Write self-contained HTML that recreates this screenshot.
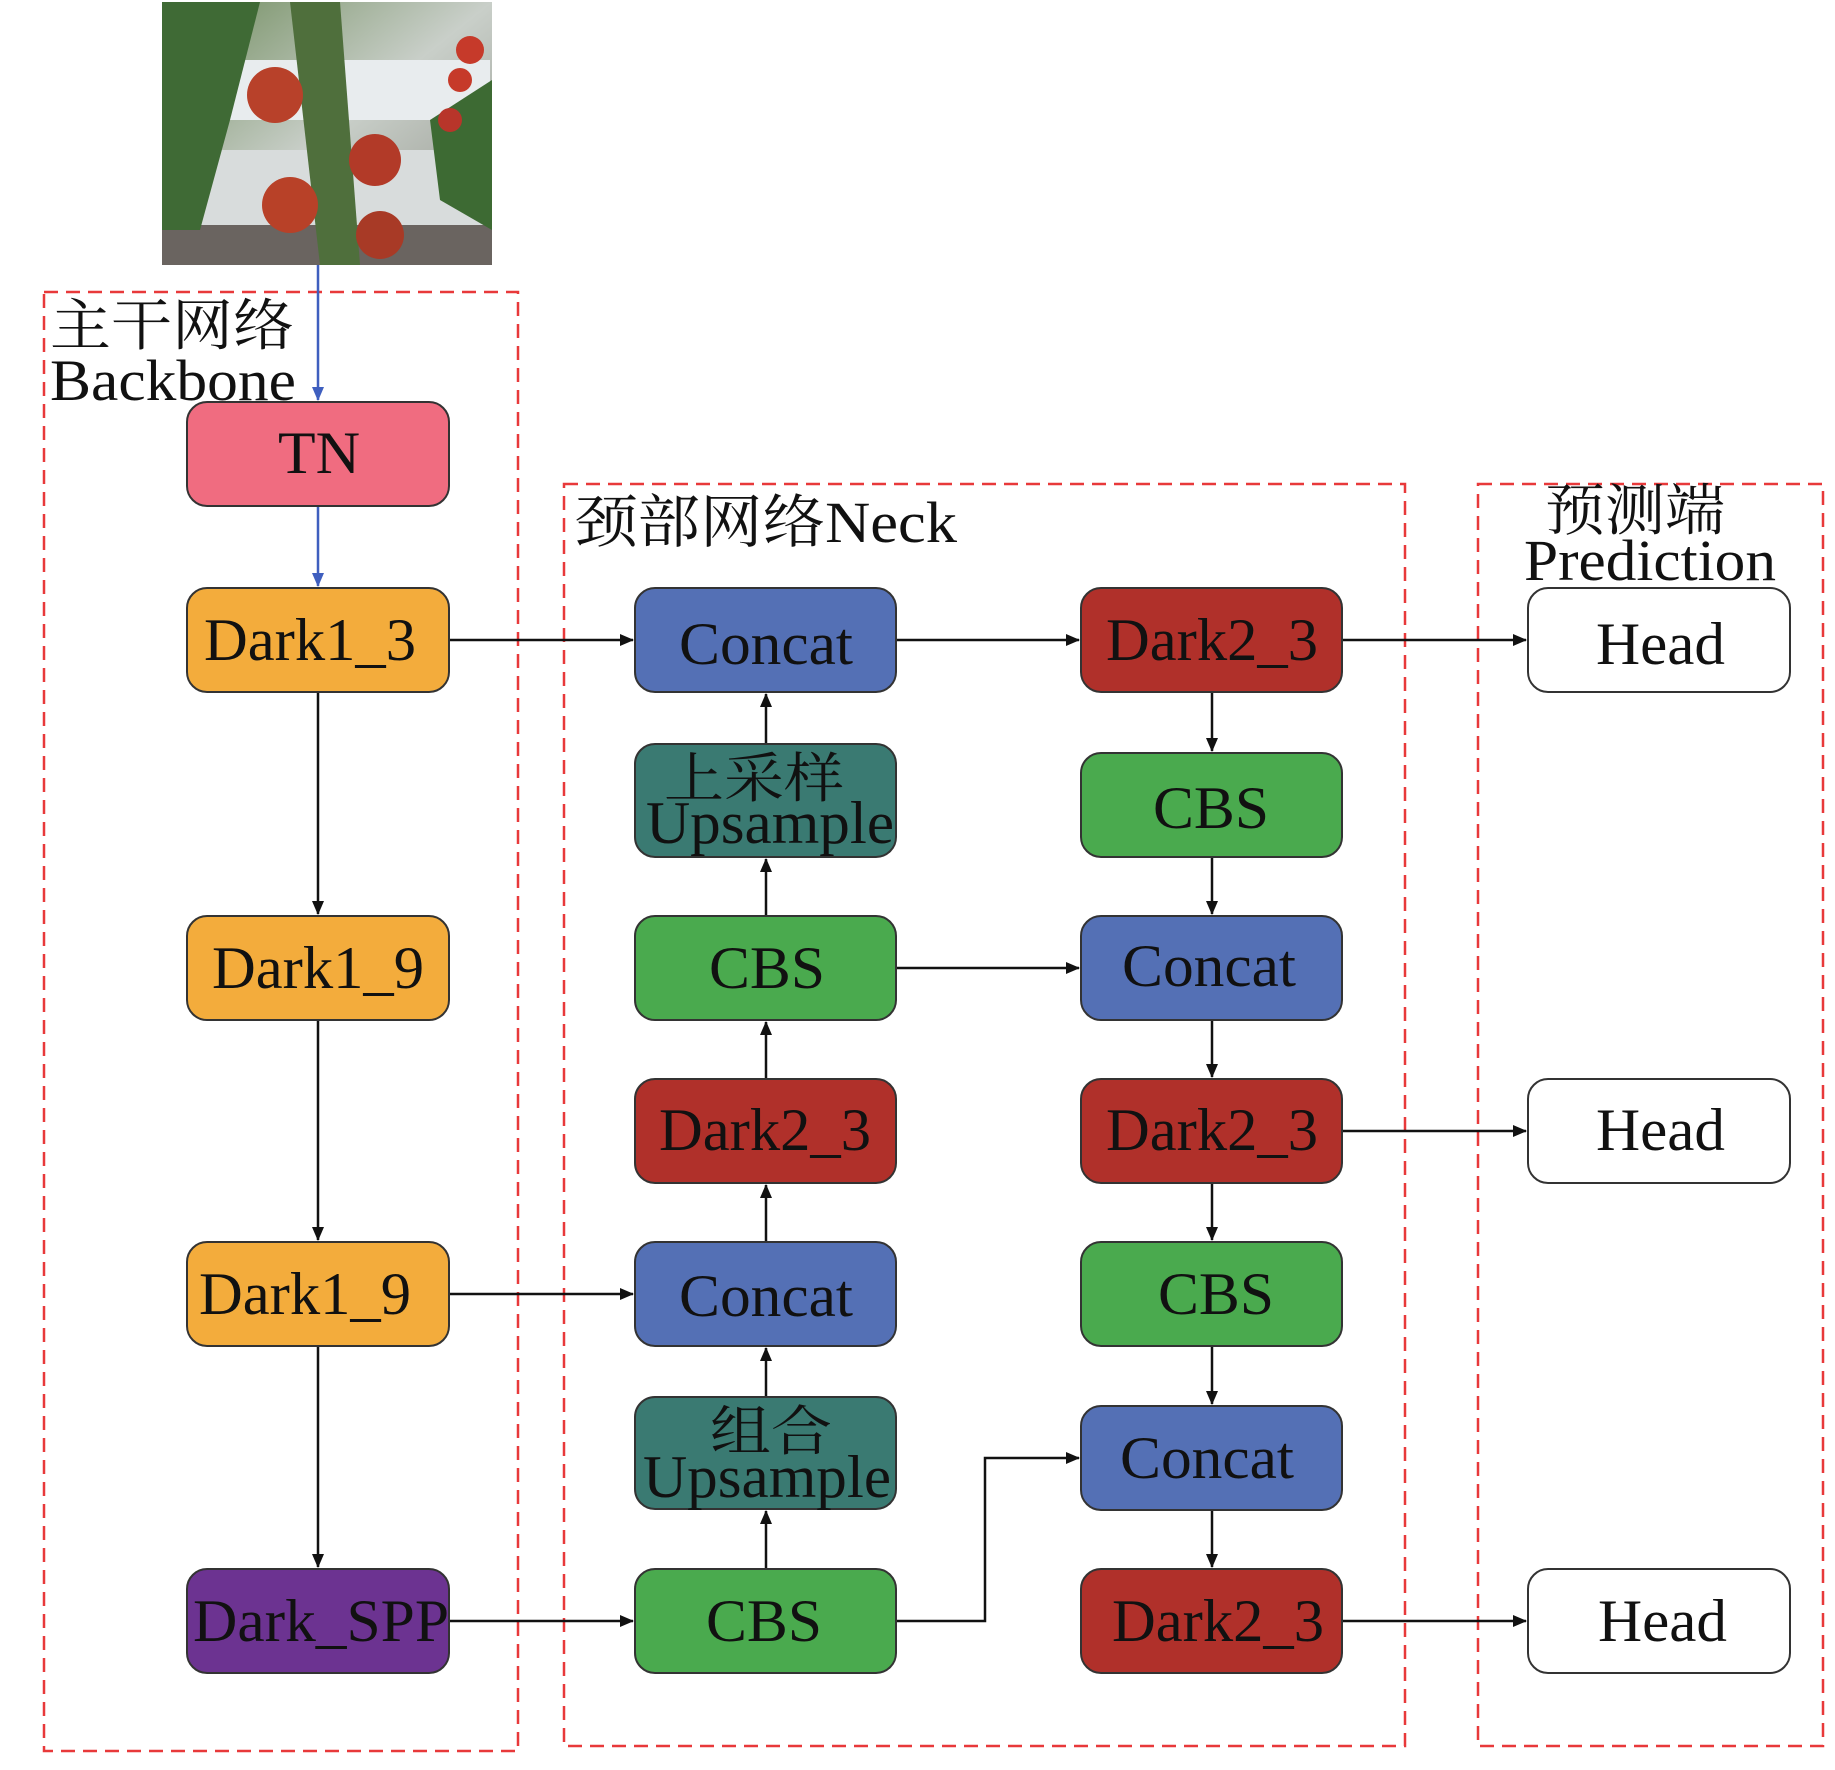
<!DOCTYPE html>
<html><head><meta charset="utf-8"><style>html,body{margin:0;padding:0;background:#fff}svg{display:block}</style></head>
<body>
<svg width="1835" height="1770" viewBox="0 0 1835 1770" xmlns="http://www.w3.org/2000/svg" font-family="'Liberation Serif','Noto Serif CJK SC',serif">
<defs>
<marker id="a" markerWidth="10" markerHeight="10" refX="9" refY="5" orient="auto" markerUnits="userSpaceOnUse"><path d="M0,0 L10,5 L0,10 z" fill="#111"/></marker>
<marker id="b" markerWidth="14" markerHeight="14" refX="13" refY="7" orient="auto" markerUnits="userSpaceOnUse"><path d="M0,1 L14,7 L0,13 z" fill="#3f5fbf"/></marker>
<marker id="k" markerWidth="14" markerHeight="14" refX="13" refY="7" orient="auto" markerUnits="userSpaceOnUse"><path d="M0,1 L14,7 L0,13 z" fill="#111"/></marker>
<linearGradient id="bg" x1="0" y1="0" x2="1" y2="1"><stop offset="0" stop-color="#6d8a5a"/><stop offset="0.5" stop-color="#c9cfc9"/><stop offset="1" stop-color="#8c8f86"/></linearGradient>
</defs>
<!-- photo -->
<rect x="162" y="2" width="330" height="263" fill="url(#bg)"/>
<rect x="210" y="60" width="280" height="60" fill="#e8ecee"/>
<rect x="200" y="150" width="292" height="80" fill="#d8dcdc"/>
<rect x="162" y="225" width="330" height="40" fill="#6a6460"/>
<path d="M162,2 L260,2 L230,120 L200,230 L162,230 z" fill="#3f6a35"/>
<path d="M290,2 L340,2 L360,265 L320,265 z" fill="#4f6f3c"/>
<path d="M430,120 L492,80 L492,230 L440,200 z" fill="#3d6a33"/>
<circle cx="275" cy="95" r="28" fill="#b8412a"/>
<circle cx="375" cy="160" r="26" fill="#b23a28"/>
<circle cx="290" cy="205" r="28" fill="#b84128"/>
<circle cx="380" cy="235" r="24" fill="#a83a26"/>
<circle cx="470" cy="50" r="14" fill="#c63a2a"/><circle cx="460" cy="80" r="12" fill="#c63a2a"/><circle cx="450" cy="120" r="12" fill="#b8352a"/>
<!-- dashed groups -->
<g fill="none" stroke="#e8393a" stroke-width="2.5" stroke-dasharray="14,8">
<rect x="44" y="292" width="474" height="1459"/>
<rect x="564" y="484" width="841" height="1262"/>
<rect x="1478" y="484" width="345" height="1262"/>
</g>
<!-- group labels -->
<g fill="#111">
<text x="50" y="345" font-size="56" textLength="244" lengthAdjust="spacingAndGlyphs">主干网络</text>
<text x="50" y="400" font-size="58" textLength="246" lengthAdjust="spacingAndGlyphs">Backbone</text>
<text x="575" y="542" font-size="58" textLength="382" lengthAdjust="spacingAndGlyphs">颈部网络Neck</text>
<text x="1545" y="530" font-size="56" textLength="180" lengthAdjust="spacingAndGlyphs">预测端</text>
<text x="1524" y="580" font-size="58" textLength="252" lengthAdjust="spacingAndGlyphs">Prediction</text>
</g>
<!-- connectors -->
<g stroke="#3f5fbf" stroke-width="2.5" fill="none">
<line x1="318" y1="265" x2="318" y2="400" marker-end="url(#b)"/>
<line x1="318" y1="506" x2="318" y2="586" marker-end="url(#b)"/>
</g>
<g stroke="#111" stroke-width="2.5" fill="none" marker-end="url(#k)">
<line x1="449" y1="640" x2="633" y2="640"/>
<line x1="896" y1="640" x2="1079" y2="640"/>
<line x1="1342" y1="640" x2="1526" y2="640"/>
<line x1="318" y1="692" x2="318" y2="914"/>
<line x1="318" y1="1020" x2="318" y2="1240"/>
<line x1="318" y1="1346" x2="318" y2="1567"/>
<line x1="449" y1="1294" x2="633" y2="1294"/>
<line x1="449" y1="1621" x2="633" y2="1621"/>
<line x1="766" y1="1569" x2="766" y2="1511"/>
<line x1="766" y1="1397" x2="766" y2="1348"/>
<line x1="766" y1="1242" x2="766" y2="1185"/>
<line x1="766" y1="1079" x2="766" y2="1022"/>
<line x1="766" y1="916" x2="766" y2="859"/>
<line x1="766" y1="744" x2="766" y2="694"/>
<line x1="896" y1="968" x2="1079" y2="968"/>
<line x1="1212" y1="692" x2="1212" y2="751"/>
<line x1="1212" y1="857" x2="1212" y2="914"/>
<line x1="1212" y1="1020" x2="1212" y2="1077"/>
<line x1="1212" y1="1183" x2="1212" y2="1240"/>
<line x1="1212" y1="1346" x2="1212" y2="1404"/>
<line x1="1212" y1="1510" x2="1212" y2="1567"/>
<line x1="1342" y1="1131" x2="1526" y2="1131"/>
<polyline points="896,1621 985,1621 985,1458 1079,1458"/>
<line x1="1342" y1="1621" x2="1526" y2="1621"/>
</g>
<!-- boxes -->
<g stroke="#333" stroke-width="2">
<rect x="187" y="402" width="262" height="104" rx="20" fill="#f06c80"/>
<rect x="187" y="588" width="262" height="104" rx="20" fill="#f3ac3c"/>
<rect x="187" y="916" width="262" height="104" rx="20" fill="#f3ac3c"/>
<rect x="187" y="1242" width="262" height="104" rx="20" fill="#f3ac3c"/>
<rect x="187" y="1569" width="262" height="104" rx="20" fill="#6c3391"/>
<rect x="635" y="588" width="261" height="104" rx="20" fill="#5470b5"/>
<rect x="635" y="744" width="261" height="113" rx="20" fill="#3a7a72"/>
<rect x="635" y="916" width="261" height="104" rx="20" fill="#4aaa4e"/>
<rect x="635" y="1079" width="261" height="104" rx="20" fill="#b0302a"/>
<rect x="635" y="1242" width="261" height="104" rx="20" fill="#5470b5"/>
<rect x="635" y="1397" width="261" height="112" rx="20" fill="#3a7a72"/>
<rect x="635" y="1569" width="261" height="104" rx="20" fill="#4aaa4e"/>
<rect x="1081" y="588" width="261" height="104" rx="20" fill="#b0302a"/>
<rect x="1081" y="753" width="261" height="104" rx="20" fill="#4aaa4e"/>
<rect x="1081" y="916" width="261" height="104" rx="20" fill="#5470b5"/>
<rect x="1081" y="1079" width="261" height="104" rx="20" fill="#b0302a"/>
<rect x="1081" y="1242" width="261" height="104" rx="20" fill="#4aaa4e"/>
<rect x="1081" y="1406" width="261" height="104" rx="20" fill="#5470b5"/>
<rect x="1081" y="1569" width="261" height="104" rx="20" fill="#b0302a"/>
<rect x="1528" y="588" width="262" height="104" rx="20" fill="#fff"/>
<rect x="1528" y="1079" width="262" height="104" rx="20" fill="#fff"/>
<rect x="1528" y="1569" width="262" height="104" rx="20" fill="#fff"/>
</g>
<!-- box labels -->
<g fill="#111" font-size="60" lengthAdjust="spacingAndGlyphs">
<text x="278" y="473" textLength="82" lengthAdjust="spacingAndGlyphs">TN</text>
<text x="204" y="660" textLength="212" lengthAdjust="spacingAndGlyphs">Dark1_3</text>
<text x="212" y="988" textLength="212" lengthAdjust="spacingAndGlyphs">Dark1_9</text>
<text x="199" y="1314" textLength="212" lengthAdjust="spacingAndGlyphs">Dark1_9</text>
<text x="193" y="1641" textLength="256" lengthAdjust="spacingAndGlyphs">Dark_SPP</text>
<text x="679" y="664" textLength="174" lengthAdjust="spacingAndGlyphs">Concat</text>
<text x="664" y="797" font-size="54" textLength="180" lengthAdjust="spacingAndGlyphs">上采样</text>
<text x="646" y="843" textLength="248" lengthAdjust="spacingAndGlyphs">Upsample</text>
<text x="709" y="988" textLength="116" lengthAdjust="spacingAndGlyphs">CBS</text>
<text x="659" y="1150" textLength="212" lengthAdjust="spacingAndGlyphs">Dark2_3</text>
<text x="679" y="1316" textLength="174" lengthAdjust="spacingAndGlyphs">Concat</text>
<text x="710" y="1450" font-size="54" textLength="122" lengthAdjust="spacingAndGlyphs">组合</text>
<text x="643" y="1497" textLength="248" lengthAdjust="spacingAndGlyphs">Upsample</text>
<text x="706" y="1641" textLength="116" lengthAdjust="spacingAndGlyphs">CBS</text>
<text x="1106" y="660" textLength="212" lengthAdjust="spacingAndGlyphs">Dark2_3</text>
<text x="1153" y="828" textLength="116" lengthAdjust="spacingAndGlyphs">CBS</text>
<text x="1122" y="986" textLength="174" lengthAdjust="spacingAndGlyphs">Concat</text>
<text x="1106" y="1150" textLength="212" lengthAdjust="spacingAndGlyphs">Dark2_3</text>
<text x="1158" y="1314" textLength="116" lengthAdjust="spacingAndGlyphs">CBS</text>
<text x="1120" y="1478" textLength="174" lengthAdjust="spacingAndGlyphs">Concat</text>
<text x="1112" y="1641" textLength="212" lengthAdjust="spacingAndGlyphs">Dark2_3</text>
<text x="1596" y="664" textLength="129" lengthAdjust="spacingAndGlyphs">Head</text>
<text x="1596" y="1150" textLength="129" lengthAdjust="spacingAndGlyphs">Head</text>
<text x="1598" y="1641" textLength="129" lengthAdjust="spacingAndGlyphs">Head</text>
</g>
</svg>
</body></html>
